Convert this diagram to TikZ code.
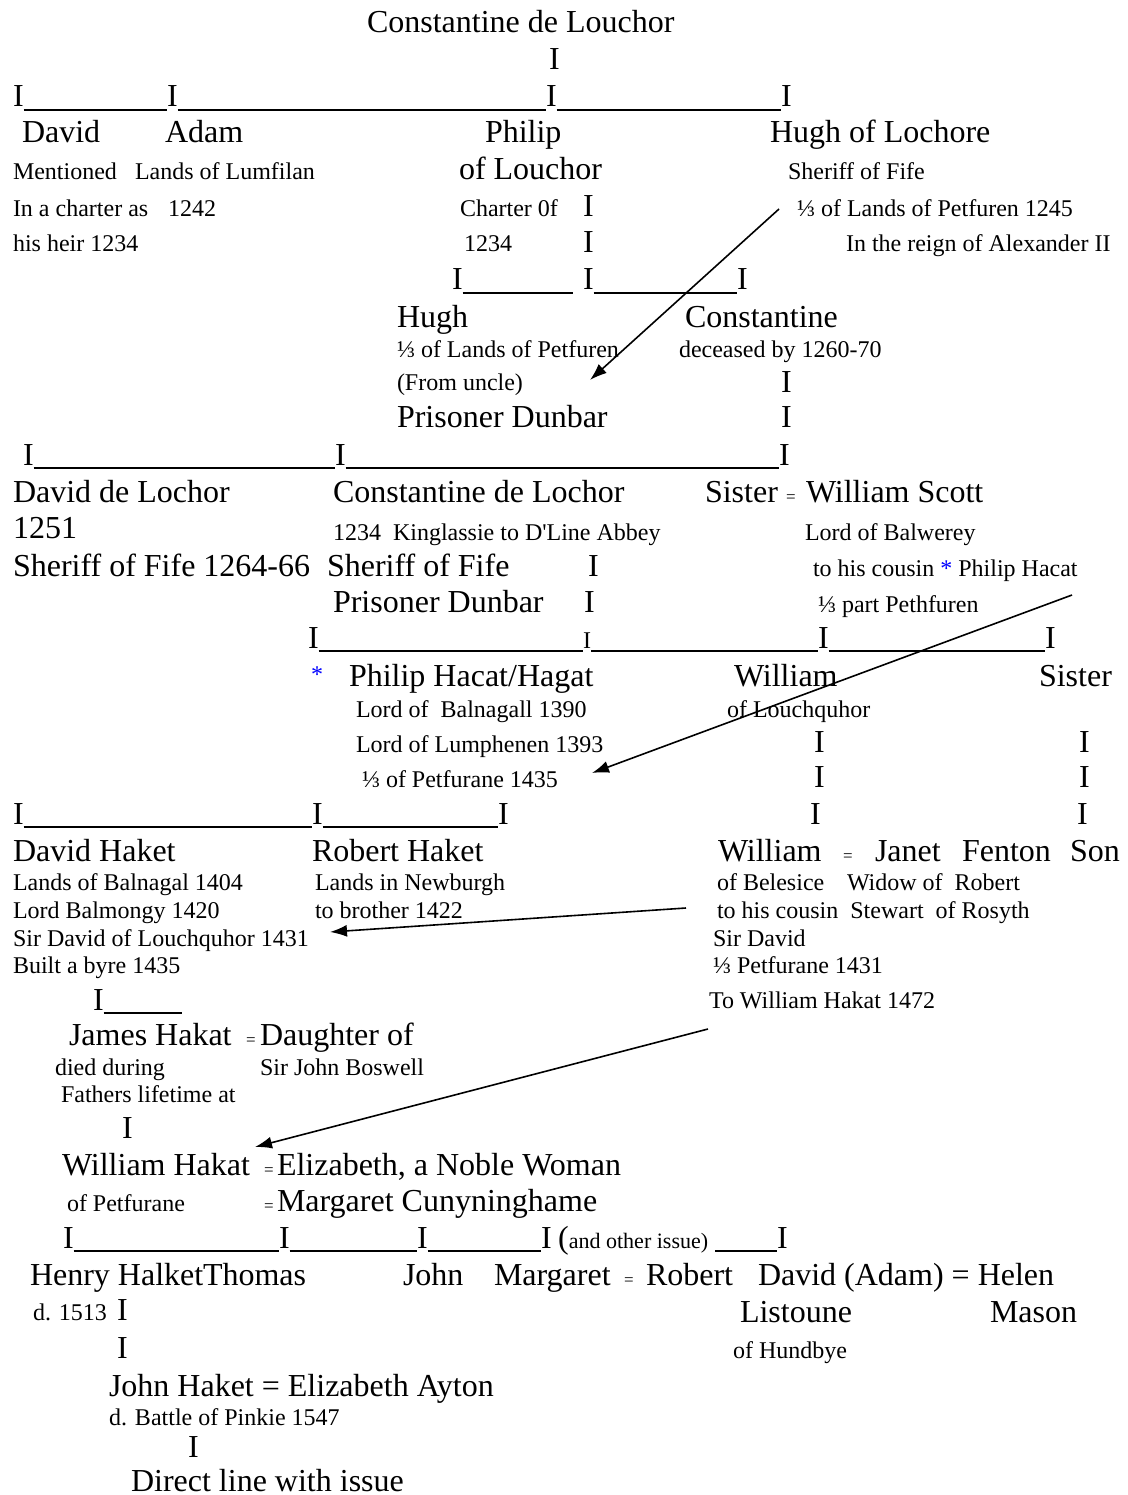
\documentclass[tikz,border=0pt]{standalone}
\usepackage{fontspec}
\setmainfont{Liberation Serif}
\usetikzlibrary{arrows.meta}
\tikzset{
  big/.style={anchor=base west, inner sep=0pt, outer sep=0pt, font=\fontsize{32}{32}\selectfont},
  sml/.style={anchor=base west, inner sep=0pt, outer sep=0pt, font=\fontsize{24}{24}\selectfont},
  eqs/.style={anchor=base west, inner sep=0pt, outer sep=0pt, font=\fontsize{17}{17}\selectfont},
  bar/.style={big},
  uline/.style={line width=1.5pt},
  arr/.style={line width=1.6pt, -{Latex[length=17pt,width=12pt]}},
}
\begin{document}
\begin{tikzpicture}[x=1pt,y=-1pt]
\useasboundingbox[fill=white] (0,0) rectangle (1127,1495);
% generation 1
\node[big] (c0) at (367,33) {Constantine de Louchor};
\node[bar] (v0) at (549,70) {I};
\node[bar] (a1) at (13,107) {I};
\node[bar] (a2) at (167,107) {I};
\node[bar] (a3) at (546,107) {I};
\node[bar] (a4) at (781,107) {I};
\draw[uline] ([yshift=-3pt]a1.base east) -- ([yshift=-3pt]a2.base west);
\draw[uline] ([yshift=-3pt]a2.base east) -- ([yshift=-3pt]a3.base west);
\draw[uline] ([yshift=-3pt]a3.base east) -- ([yshift=-3pt]a4.base west);
% generation 2
\node[big] (david1) at (22,143) {David};
\node[big] (adam1) at (165,143) {Adam};
\node[big] (philip1) at (485,143) {Philip};
\node[big] (hugh1) at (770,143) {Hugh of Lochore};
\node[sml] (t1) at (13,180) {Mentioned};
\node[sml] (t2) at (135,180) {Lands of Lumfilan};
\node[big] (t3) at (459,180) {of Louchor};
\node[sml] (t4) at (788,180) {Sheriff of Fife};
\node[sml] (t5) at (13,217) {In a charter as};
\node[sml] (t6) at (168,217) {1242};
\node[sml] (t7) at (460,217) {Charter 0f};
\node[bar] (v1) at (583,217) {I};
\node[sml] (t8) at (797,217) {⅓ of Lands of Petfuren 1245};
\node[sml] (t9) at (13,252) {his heir 1234};
\node[sml] (t10) at (464,252) {1234};
\node[bar] (v2) at (583,253) {I};
\node[sml] (t11) at (846,252) {In the reign of Alexander II};
\node[bar] (b1) at (452,290) {I};
\node[bar] (b2) at (583,290) {I};
\node[bar] (b3) at (737,290) {I};
\coordinate (b1e) at (573,293);
\draw[uline] ([yshift=-3pt]b1.base east) -- (b1e);
\draw[uline] ([yshift=-3pt]b2.base east) -- ([yshift=-3pt]b3.base west);
% generation 3
\node[big] (hugh2) at (397,327) {Hugh};
\node[big] (const2) at (685,327) {Constantine};
\node[sml] (u1) at (397,357) {⅓ of Lands of Petfuren};
\node[sml] (u2) at (679,357) {deceased by 1260-70};
\node[sml] (u3) at (397,390) {(From uncle)};
\node[bar] (v3) at (781,392) {I};
\node[big] (u4) at (397,427) {Prisoner Dunbar};
\node[bar] (v4) at (781,427) {I};
\node[bar] (c1) at (23,465) {I};
\node[bar] (c2) at (335,465) {I};
\node[bar] (c3) at (779,465) {I};
\draw[uline] ([yshift=-3pt]c1.base east) -- ([yshift=-3pt]c2.base west);
\draw[uline] ([yshift=-3pt]c2.base east) -- ([yshift=-3pt]c3.base west);
% generation 4
\node[big] (david3) at (13,502) {David de Lochor};
\node[big] (const3) at (333,502) {Constantine de Lochor};
\node[big] (sister3) at (705,502) {Sister};
\node[eqs] (eq1) at (786,502) {=};
\node[big] (scott) at (806,502) {William Scott};
\node[big] (w1) at (13,538) {1251};
\node[sml] (w2) at (333,540) {1234\ \ Kinglassie to D\textquotesingle Line Abbey};
\node[sml] (w3) at (805,540) {Lord of Balwerey};
\node[big] (w4) at (13,576) {Sheriff of Fife 1264-66};
\node[big] (w5) at (327,576) {Sheriff of Fife};
\node[bar] (v5) at (588,576) {I};
\node[sml] (w6) at (813,576) {to his cousin {\color{blue}*} Philip Hacat};
\node[big] (w7) at (333,612) {Prisoner Dunbar};
\node[bar] (v6) at (584,612) {I};
\node[sml] (w8) at (818,612) {⅓ part Pethfuren};
\node[bar] (d1) at (308,648) {I};
\node[sml] (d2) at (583,648) {I};
\node[bar] (d3) at (818,648) {I};
\node[bar] (d4) at (1045,648) {I};
\draw[uline] ([yshift=-3pt]d1.base east) -- ([yshift=-3pt]d2.base west);
\draw[uline] ([yshift=-3pt]d2.base east) -- ([yshift=-3pt]d3.base west);
\draw[uline] ([yshift=-3pt]d3.base east) -- ([yshift=-3pt]d4.base west);
% generation 5
\node[sml, text=blue] (star) at (311,682) {*};
\node[big] (philip5) at (349,686) {Philip Hacat/Hagat};
\node[big] (william5) at (734,686) {William};
\node[big] (sister5) at (1039,686) {Sister};
\node[sml] (x1) at (356,717) {Lord of\ \ Balnagall 1390};
\node[sml] (x2) at (727,717) {of Louchquhor};
\node[sml] (x3) at (356,752) {Lord of Lumphenen 1393};
\node[bar] (v7) at (814,752) {I};
\node[bar] (v8) at (1079,752) {I};
\node[sml] (x4) at (362,787) {⅓ of Petfurane 1435};
\node[bar] (v9) at (814,787) {I};
\node[bar] (v10) at (1079,787) {I};
\node[bar] (e1) at (13,824) {I};
\node[bar] (e2) at (312,824) {I};
\node[bar] (e3) at (498,824) {I};
\node[bar] (v11) at (810,824) {I};
\node[bar] (v12) at (1077,824) {I};
\draw[uline] ([yshift=-3pt]e1.base east) -- ([yshift=-3pt]e2.base west);
\draw[uline] ([yshift=-3pt]e2.base east) -- ([yshift=-3pt]e3.base west);
% generation 6
\node[big] (davidh) at (13,861) {David Haket};
\node[big] (roberth) at (312,861) {Robert Haket};
\node[big] (william6) at (718,861) {William};
\node[eqs] (eq2) at (843,861) {=};
\node[big] (janet) at (875,861) {Janet};
\node[big] (fenton) at (962,861) {Fenton};
\node[big] (son) at (1070,861) {Son};
\node[sml] (y1) at (13,890) {Lands of Balnagal 1404};
\node[sml] (y2) at (315,890) {Lands in Newburgh};
\node[sml] (y3) at (717,890) {of Belesice};
\node[sml] (y4) at (847,890) {Widow of\ \ Robert};
\node[sml] (y5) at (13,918) {Lord Balmongy 1420};
\node[sml] (y6) at (315,918) {to brother 1422};
\node[sml] (y7) at (717,918) {to his cousin\ \ Stewart\ \ of Rosyth};
\node[sml] (y8) at (13,946) {Sir David of Louchquhor 1431};
\node[sml] (y9) at (713,946) {Sir David};
\node[sml] (y10) at (13,973) {Built a byre 1435};
\node[sml] (y11) at (713,973) {⅓ Petfurane 1431};
\node[bar] (g1) at (93,1010) {I};
\coordinate (g1e) at (182,1013);
\draw[uline] ([yshift=-3pt]g1.base east) -- (g1e);
\node[sml] (y12) at (709,1008) {To William Hakat 1472};
% generation 7
\node[big] (james) at (69,1045) {James Hakat};
\node[eqs] (eq3) at (246,1045) {=};
\node[big] (daughter) at (260,1045) {Daughter of};
\node[sml] (z1) at (55,1075) {died during};
\node[sml] (z2) at (260,1075) {Sir John Boswell};
\node[sml] (z3) at (61,1102) {Fathers lifetime at};
\node[bar] (v13) at (122,1138) {I};
% generation 8
\node[big] (williamh) at (62,1175) {William Hakat};
\node[eqs] (eq4) at (264,1175) {=};
\node[big] (eliz) at (277,1175) {Elizabeth, a Noble Woman};
\node[sml] (z4) at (67,1211) {of Petfurane};
\node[eqs] (eq5) at (264,1211) {=};
\node[big] (marg) at (277,1211) {Margaret Cunyninghame};
\node[bar] (f1) at (63,1248) {I};
\node[bar] (f2) at (279,1248) {I};
\node[bar] (f3) at (417,1248) {I};
\node[bar] (f4) at (541,1248) {I};
\node[anchor=base west, inner sep=0pt] (oth) at (558,1248) {\fontsize{32}{32}\selectfont(\fontsize{22}{22}\selectfont and other issue)};
\node[bar] (f5) at (777,1248) {I};
\draw[uline] ([yshift=-3pt]f1.base east) -- ([yshift=-3pt]f2.base west);
\draw[uline] ([yshift=-3pt]f2.base east) -- ([yshift=-3pt]f3.base west);
\draw[uline] ([yshift=-3pt]f3.base east) -- ([yshift=-3pt]f4.base west);
\draw[uline] ([xshift=7pt,yshift=-3pt]oth.base east) -- ([yshift=-3pt]f5.base west);
% generation 9
\node[big] (henry) at (30,1285) {Henry Halket};
\node[big] (thomas) at (203,1285) {Thomas};
\node[big] (john9) at (403,1285) {John};
\node[big] (marg9) at (494,1285) {Margaret};
\node[eqs] (eq6) at (624,1285) {=};
\node[big] (robert9) at (646,1285) {Robert};
\node[big] (david9) at (758,1285) {David (Adam) = Helen};
\node[sml] (h1) at (33,1320) {d. 1513};
\node[bar] (v14) at (117,1320) {I};
\node[big] (list) at (740,1322) {Listoune};
\node[big] (mason) at (990,1322) {Mason};
\node[bar] (v15) at (117,1358) {I};
\node[sml] (hund) at (733,1358) {of Hundbye};
% generation 10
\node[big] (johnh) at (109,1396) {John Haket = Elizabeth Ayton};
\node[sml] (pinkie) at (109,1425) {d. Battle of Pinkie 1547};
\node[bar] (v16) at (188,1457) {I};
\node[big] (direct) at (131,1491) {Direct line with issue};
% arrows
\coordinate (s1) at (779,209); \coordinate (e1a) at (590,380);
\coordinate (s2) at (1072,595); \coordinate (e2a) at (592,773);
\coordinate (s3) at (686,908); \coordinate (e3a) at (330,932);
\coordinate (s4) at (708,1029); \coordinate (e4a) at (255,1147);
\draw[arr] (s1) -- (e1a);
\draw[arr] (s2) -- (e2a);
\draw[arr] (s3) -- (e3a);
\draw[arr] (s4) -- (e4a);
\end{tikzpicture}
\end{document}
